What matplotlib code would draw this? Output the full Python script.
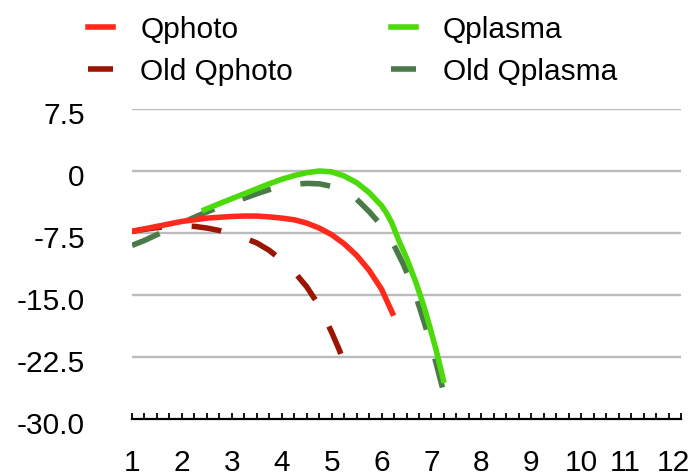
import numpy as np
import matplotlib.pyplot as plt
import matplotlib.transforms as mtransforms
from matplotlib.ticker import MultipleLocator, FixedLocator

plt.rcParams['font.family'] = ['Liberation Sans', 'DejaVu Sans']

# values
qphoto_x = [1.0, 1.25, 1.5, 1.75, 2.0, 2.25, 2.5, 2.75, 3.0, 3.25, 3.5, 3.75,
            4.0, 4.25, 4.5, 4.75, 5.0, 5.25, 5.5, 5.75, 6.0, 6.22]
qphoto_y = [-7.3, -7.0, -6.7, -6.4, -6.1, -5.9, -5.7, -5.6, -5.5, -5.45, -5.45, -5.55,
            -5.7, -5.9, -6.3, -6.9, -7.7, -8.8, -10.2, -12.0, -14.3, -17.2]

old_qphoto_x = [1.0, 1.25, 1.5, 1.75, 2.0, 2.25, 2.5, 2.75, 3.0, 3.25, 3.5, 3.75,
                4.0, 4.25, 4.5, 4.75, 5.0, 5.15, 5.32]
old_qphoto_y = [-7.3, -7.05, -6.85, -6.7, -6.65, -6.7, -6.9, -7.2, -7.6, -8.1, -8.7, -9.6,
                -10.8, -12.2, -14.0, -16.3, -19.5, -21.6, -24.2]

qplasma_x = [2.45, 2.75, 3.0, 3.25, 3.5, 3.75, 4.0, 4.25, 4.5, 4.75, 5.0, 5.25,
             5.5, 5.75, 6.0, 6.09, 6.2, 6.36, 6.5, 6.69, 6.85, 6.96, 7.1, 7.24]
qplasma_y = [-4.7, -3.95, -3.35, -2.75, -2.15, -1.55, -1.0, -0.55, -0.2, 0.0, -0.1, -0.6,
             -1.4, -2.6, -4.2, -5.0, -6.2, -8.6, -10.5, -13.5, -16.4, -18.7, -21.8, -25.3]

old_qplasma_x = [1.0, 1.25, 1.5, 1.75, 2.0, 2.25, 2.5, 2.75, 3.0, 3.25, 3.5, 3.75, 4.0,
                 4.25, 4.5, 4.75, 5.0, 5.25, 5.5, 5.75, 6.0, 6.13, 6.25, 6.43, 6.55,
                 6.66, 6.75, 6.86, 7.0, 7.1, 7.22]
old_qplasma_y = [-9.0, -8.4, -7.7, -7.0, -6.3, -5.6, -4.95, -4.35, -3.8, -3.3, -2.75, -2.25, -1.85,
                 -1.6, -1.5, -1.55, -1.85, -2.5, -3.4, -4.9, -6.6, -7.7, -9.0, -11.2, -12.9,
                 -14.7, -16.3, -18.4, -21.2, -23.4, -26.2]

y_ticks = [7.5, 0, -7.5, -15.0, -22.5, -30.0]
y_labels = ["7.5", "0", "-7.5", "-15.0", "-22.5", "-30.0"]
x_ticks = list(range(1, 13))

fig = plt.figure(figsize=(6.99, 4.77), dpi=100)
ax = fig.add_axes([132/699, 1 - 420/477, (681-132)/699, (420-110)/477])

lw = 4.0
dash = (5.4, 5.4)
l_oqpl, = ax.plot(old_qplasma_x, old_qplasma_y, color='#4a7a4a', lw=lw, dashes=dash,
                  label='Old Qplasma')
l_oqph, = ax.plot(old_qphoto_x, old_qphoto_y, color='#9c1500', lw=lw, dashes=dash,
                  label='Old Qphoto')
l_qpl, = ax.plot(qplasma_x, qplasma_y, color='#4cda0a', lw=lw, label='Qplasma')
l_qph, = ax.plot(qphoto_x, qphoto_y, color='#ff2a1c', lw=lw, label='Qphoto')

ax.set_xlim(1, 12)
ax.set_ylim(-30, 7.5)

for y in y_ticks[:-1]:
    ax.axhline(y, color='#bbbbbb', lw=1.7, zorder=0)

for s in ['top', 'right', 'left']:
    ax.spines[s].set_visible(False)
ax.spines['bottom'].set_linewidth(1.6)
ax.spines['bottom'].set_color('black')

ax.xaxis.set_major_locator(FixedLocator(x_ticks))
ax.xaxis.set_minor_locator(MultipleLocator(0.25))
ax.set_yticks(y_ticks)
ax.set_yticklabels(y_labels)
ax.tick_params(axis='x', which='both', direction='in', length=4.5, width=1.3,
               labelsize=21.5, pad=21)
ax.tick_params(axis='y', length=0, labelsize=21.5, pad=34)

# the last labels sit a little left of their ticks in the original
shifts = {11: -6, 12: -8}
for lab, xv in zip(ax.get_xticklabels(), x_ticks):
    if xv in shifts:
        off = mtransforms.ScaledTranslation(shifts[xv] / 100, 0, fig.dpi_scale_trans)
        lab.set_transform(lab.get_transform() + off)
for lab in ax.get_yticklabels():
    off = mtransforms.ScaledTranslation(0, -3 / 100, fig.dpi_scale_trans)
    lab.set_transform(lab.get_transform() + off)

fig.legend(handles=[l_qph, l_oqph, l_qpl, l_oqpl],
           labels=['Qphoto', 'Old Qphoto', 'Qplasma', 'Old Qplasma'],
           ncol=2, loc='upper left', bbox_to_anchor=(88/699, 1 - 16/477),
           frameon=False, fontsize=21.5, handlelength=0.85, handletextpad=0.9,
           columnspacing=3.27, labelspacing=0.47, borderpad=0, borderaxespad=0)

fig.savefig('out.png', dpi=100)
